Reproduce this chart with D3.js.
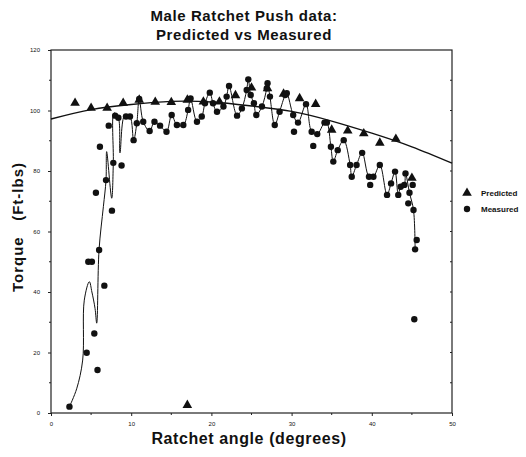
<!DOCTYPE html>
<html>
<head>
<meta charset="utf-8">
<script src="https://cdn.jsdelivr.net/npm/d3@7.9.0/dist/d3.min.js"></script>
<style>
  body { margin: 0; background: #fff; }
  svg text { font-family: "Liberation Sans", Arial, sans-serif; fill: #111; }
</style>
</head>
<body>
<svg id="chart" width="526" height="457"></svg>
<script>
// predicted torque (triangles)
const predictedX = [3, 5, 7, 9, 11, 13, 15, 17, 19, 21, 23, 25, 27, 29, 31, 33, 35, 37, 39, 41, 43, 45, 17];
const predictedY = [102.5, 100.8, 100.8, 102.5, 103.5, 102.8, 102.7, 103.5, 102.9, 102.9, 105, 107.5, 107.3, 105.5, 104, 102.1, 93.6, 93.3, 92.4, 89.3, 90.6, 77.7, 2.6];

// fitted predicted curve
const fitX = [0, 5, 10, 15, 20, 25, 30, 35, 40, 45, 50];
const fitY = [97.2, 100.3, 102, 103, 102.8, 101.5, 99.7, 96.5, 92.5, 88, 82.6];

// measured torque (circles)
const measuredX = [2.3, 4.45, 4.65, 5.1, 5.4, 5.6, 5.8, 6.0, 6.1, 6.65, 6.86, 7.2, 7.6, 7.77, 8.0, 8.4, 8.8, 9.35, 9.85, 10.3,
  10.7, 11.0, 11.5, 12.3, 12.9, 13.6, 14.4, 15.05, 15.7, 16.5, 17.1, 17.4, 18.2, 18.8, 19.2, 19.8, 20.2, 20.7, 21.5, 21.9,
  22.2, 23.2, 23.8, 24.4, 24.6, 24.9, 25.3, 25.6, 26.3, 26.9, 27.0, 27.3, 27.9, 28.5, 29.2, 29.4, 30.2, 30.3, 30.8, 31.8,
  32.5, 32.7, 33.2, 34.1, 34.4, 34.9, 35.2, 35.75, 36.5, 37.3, 37.5, 38.1, 38.8, 39.65, 39.8, 40.2, 41.0, 41.9, 42.4, 42.9,
  43.3, 43.6, 44.05, 44.2, 44.55, 44.7, 45.1, 45.2, 45.4, 45.6, 45.3];
const measuredY = [2.1, 19.9, 50, 50, 26.3, 72.8, 14.2, 53.9, 88, 42.1, 77, 95, 66.9, 82.7, 98.3, 97.6, 81.8, 98, 98, 90.2,
  95.8, 103.8, 96.3, 93.2, 96.3, 95, 93, 98.5, 95.2, 95.2, 100.2, 104, 96.3, 98, 102.4, 105.9, 102.4, 99.6, 101.3, 104.6,
  108.1, 98.3, 100.7, 106.8, 110.3, 105.1, 102.4, 98.5, 101.3, 107.3, 109, 104.6, 95.2, 99.6, 105.1, 105.7, 98.5, 93, 96, 102.1,
  93, 88.3, 92.2, 96, 96, 88, 83.1, 86.9, 90.2, 82, 78.1, 82, 86, 78.1, 75.4, 78.1, 82, 72.1, 75.9, 79.8,
  72.1, 74.8, 75.4, 79.2, 69.3, 72.8, 75.4, 67.1, 54.1, 57.2, 31];

// smoothed measured trace (thin line)
const traceX = [2.3, 3.2, 3.95, 4.15, 4.78, 5.1, 5.49, 5.7, 5.99, 6.53, 6.86, 6.94, 7.57, 7.77, 7.86, 8.4, 8.6, 9.2, 9.85, 10.3,
  10.7, 11.0, 11.5, 12.3, 12.9, 13.6, 14.4, 15.05, 15.7, 16.5, 17.1, 17.4, 18.2, 18.8, 19.2, 19.8, 20.2, 20.7, 21.5, 21.9,
  22.2, 23.2, 23.8, 24.4, 24.6, 24.9, 25.3, 25.6, 26.3, 26.9, 27.0, 27.3, 27.9, 28.5, 29.2, 29.4, 30.2, 30.8, 31.8,
  32.5, 33.2, 34.1, 34.4, 34.9, 35.2, 35.75, 36.5, 37.3, 37.5, 38.1, 38.8, 39.65, 40.2, 41.0, 41.9, 42.4, 42.9,
  43.3, 43.6, 44.05, 44.2, 44.7, 45.2, 45.4];
const traceY = [2.1, 8, 17.5, 37.3, 43.4, 40, 34.6, 29.7, 53.9, 68.2, 77, 86.4, 71, 82.7, 99.2, 97.6, 86, 98.5, 98, 90.2,
  95.8, 103.8, 96.3, 93.2, 96.3, 95, 93, 98.5, 95.2, 95.2, 100.2, 104, 96.3, 98, 102.4, 105.9, 102.4, 99.6, 101.3, 104.6,
  108.1, 98.3, 100.7, 106.8, 110.3, 105.1, 102.4, 98.5, 101.3, 107.3, 109, 104.6, 95.2, 99.6, 105.1, 105.7, 98.5, 96, 102.1,
  93, 92.2, 96, 96, 88, 83.1, 86.9, 90.2, 82, 78.1, 82, 86, 78.1, 78.1, 82, 72.1, 75.9, 79.8,
  72.1, 74.8, 75.4, 79.2, 72.8, 67.1, 54.1];

const xTicks = [0, 10, 20, 30, 40, 50];
const yTicks = [0, 20, 40, 60, 80, 100, 120];

const svg = d3.select('#chart');
const plotLeft = 51, plotRight = 452, plotTop = 50, plotBottom = 413;

const x = d3.scaleLinear().domain([0, 50]).range([plotLeft, plotRight]);
const y = d3.scaleLinear().domain([0, 120]).range([plotBottom, plotTop]);

// frame
svg.append('rect')
  .attr('x', plotLeft).attr('y', plotTop)
  .attr('width', plotRight - plotLeft).attr('height', plotBottom - plotTop)
  .attr('fill', 'none').attr('stroke', '#222').attr('stroke-width', 1.2);

// axes
let xAxis = d3.axisBottom(x).tickValues(xTicks).tickSize(3).tickPadding(6);
let yAxis = d3.axisLeft(y).tickValues(yTicks).tickSize(3).tickPadding(8);

let gx = svg.append('g').attr('transform', `translate(0,${plotBottom})`).call(xAxis);
let gy = svg.append('g').attr('transform', `translate(${plotLeft},0)`).call(yAxis);
[gx, gy].forEach((g) => {
  g.select('.domain').remove();
  g.selectAll('line').attr('stroke', '#222');
  g.selectAll('text').attr('font-size', 6).attr('fill', '#333').attr('font-family', '"Liberation Sans", Arial, sans-serif');
});

// minor ticks
svg.append('g').selectAll('line')
  .data(d3.range(5, 50, 10))
  .join('line')
  .attr('x1', (d) => x(d)).attr('x2', (d) => x(d))
  .attr('y1', plotBottom).attr('y2', plotBottom + 2)
  .attr('stroke', '#222');
svg.append('g').selectAll('line')
  .data(d3.range(10, 120, 20))
  .join('line')
  .attr('x1', plotLeft - 2).attr('x2', plotLeft)
  .attr('y1', (d) => y(d)).attr('y2', (d) => y(d))
  .attr('stroke', '#222');
svg.append('g').selectAll('line')
  .data(d3.range(10, 120, 10))
  .join('line')
  .attr('x1', plotRight - 2).attr('x2', plotRight)
  .attr('y1', (d) => y(d)).attr('y2', (d) => y(d))
  .attr('stroke', '#222');

// fitted curve
let fitLine = d3.line().x((d) => x(d[0])).y((d) => y(d[1])).curve(d3.curveNatural);
svg.append('path')
  .attr('d', fitLine(d3.zip(fitX, fitY)))
  .attr('fill', 'none').attr('stroke', '#111').attr('stroke-width', 1.4);

// measured trace
let traceLine = d3.line().x((d) => x(d[0])).y((d) => y(d[1])).curve(d3.curveCatmullRom);
svg.append('path')
  .attr('d', traceLine(d3.zip(traceX, traceY)))
  .attr('fill', 'none').attr('stroke', '#111').attr('stroke-width', 1);

// predicted triangles
let tri = d3.symbol().type(d3.symbolTriangle).size(40);
svg.append('g').selectAll('path')
  .data(d3.zip(predictedX, predictedY))
  .join('path')
  .attr('d', tri)
  .attr('transform', (d) => `translate(${x(d[0])},${y(d[1])})`)
  .attr('fill', '#111');

// measured circles
svg.append('g').selectAll('circle')
  .data(d3.zip(measuredX, measuredY))
  .join('circle')
  .attr('cx', (d) => x(d[0])).attr('cy', (d) => y(d[1]))
  .attr('r', 3.2)
  .attr('fill', '#111');

// titles
svg.append('text').attr('x', 244).attr('y', 21).attr('text-anchor', 'middle')
  .attr('font-size', 15).attr('font-weight', 'bold').attr('letter-spacing', 0.6).text('Male Ratchet Push data:');
svg.append('text').attr('x', 244).attr('y', 40).attr('text-anchor', 'middle')
  .attr('font-size', 15).attr('font-weight', 'bold').attr('letter-spacing', 0.6).text('Predicted vs Measured');

svg.append('text').attr('x', 249).attr('y', 444).attr('text-anchor', 'middle')
  .attr('font-size', 16).attr('font-weight', 'bold').attr('letter-spacing', 0.6).text('Ratchet angle (degrees)');
svg.append('text').attr('transform', 'translate(23,227) rotate(-90)').attr('text-anchor', 'middle')
  .style('white-space', 'pre')
  .attr('font-size', 15).attr('font-weight', 'bold').attr('letter-spacing', 1).text('Torque   (Ft-lbs)');

// legend
let legend = svg.append('g');
legend.append('path').attr('d', tri).attr('transform', 'translate(467,193)').attr('fill', '#111');
legend.append('circle').attr('cx', 467).attr('cy', 209).attr('r', 3.2).attr('fill', '#111');
legend.append('text').attr('x', 481).attr('y', 196).attr('font-size', 8).attr('font-weight', 'bold').text('Predicted');
legend.append('text').attr('x', 481).attr('y', 212).attr('font-size', 8).attr('font-weight', 'bold').text('Measured');
</script>
</body>
</html>
